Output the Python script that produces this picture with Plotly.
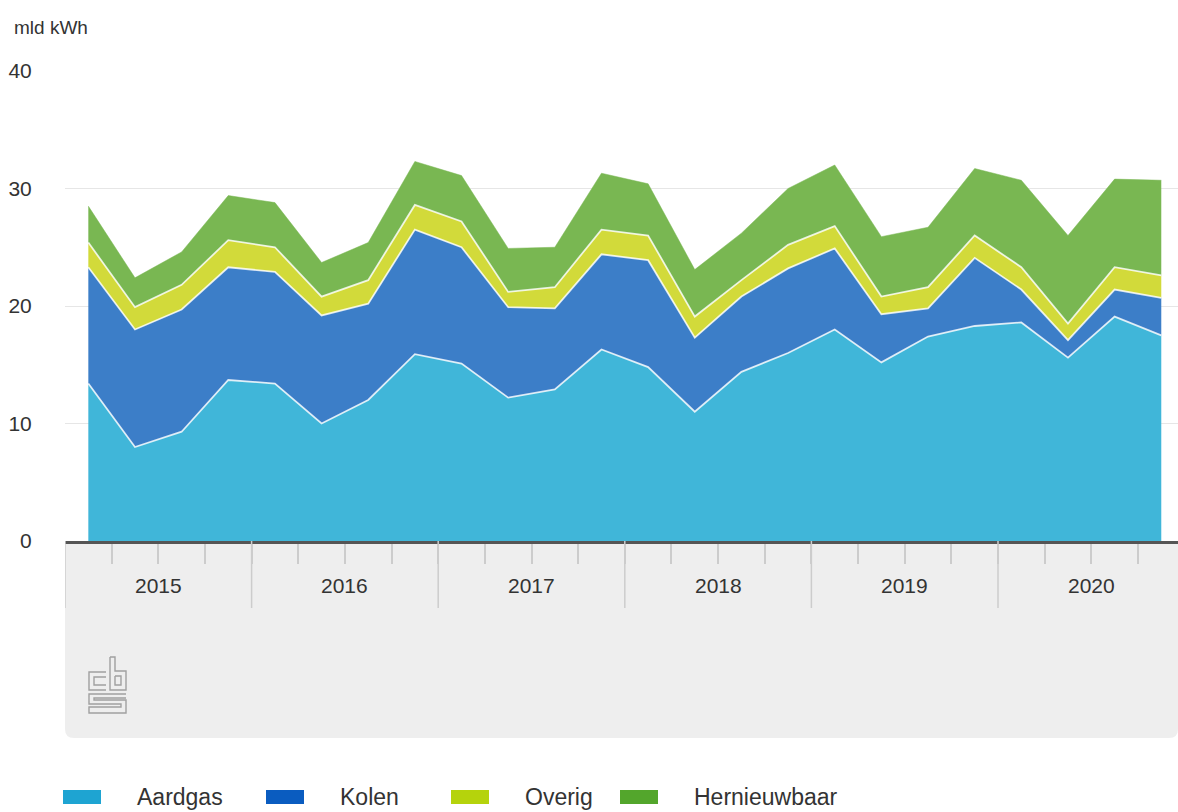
"""
Elektriciteitsproductie naar energiebron, per kwartaal (mld kWh).
Stacked area chart in CBS style.
"""

import plotly.graph_objects as go

# data
years = ["2015", "2016", "2017", "2018", "2019", "2020"]
quarters = [f"{y} K{q}" for y in years for q in range(1, 5)]

aardgas = [13.4, 8.0, 9.3, 13.7, 13.4, 10.0, 12.0, 15.9, 15.1, 12.2, 12.9, 16.3,
           14.8, 11.0, 14.4, 16.0, 18.0, 15.2, 17.4, 18.3, 18.6, 15.6, 19.1, 17.5]
kolen = [9.9, 10.0, 10.4, 9.6, 9.5, 9.2, 8.2, 10.6, 9.9, 7.7, 6.9, 8.1,
         9.1, 6.3, 6.4, 7.2, 6.9, 4.1, 2.4, 5.8, 2.8, 1.5, 2.3, 3.2]
overig = [2.1, 1.9, 2.1, 2.3, 2.1, 1.6, 2.0, 2.1, 2.2, 1.3, 1.8, 2.1,
          2.1, 1.8, 1.4, 2.0, 1.9, 1.5, 1.8, 1.9, 1.9, 1.4, 1.9, 1.9]
hernieuwbaar = [3.1, 2.5, 2.8, 3.8, 3.8, 2.9, 3.2, 3.7, 3.9, 3.7, 3.4, 4.8,
                4.4, 4.0, 4.0, 4.8, 5.2, 5.1, 5.1, 5.7, 7.4, 7.5, 7.5, 8.1]

series_names = ["Aardgas", "Kolen", "Overig", "Hernieuwbaar"]
series_values = [aardgas, kolen, overig, hernieuwbaar]
fill_colors = ["#40b6d9", "#3c7ec8", "#d2da3a", "#79b752"]
legend_colors = ["#1ea4d2", "#0a5cc0", "#b5d30c", "#53a62c"]
y_ticks = [0, 10, 20, 30, 40]
unit_label = "mld kWh"

FONT = "Liberation Sans, Arial, sans-serif"
TEXT = "#333333"

# plot area in pixels: x 65..1178, y 71..541
L, R, T, B = 65, 1178, 71, 541


def px_x(x):
    return (x - L) / (R - L)


def px_y(y):
    return (B - y) / (B - T)


def path(points):
    return "M" + " L".join(f"{px_x(x):.5f},{px_y(y):.5f}" for x, y in points)


xs = list(range(len(quarters)))

fig = go.Figure()
for i, (name, vals) in enumerate(zip(series_names, series_values)):
    top = i == len(series_names) - 1
    fig.add_trace(go.Scatter(
        x=xs, y=vals, name=name, mode="lines", stackgroup="one",
        fillcolor=fill_colors[i],
        line=dict(color=fill_colors[i] if top else "rgba(255,255,255,0.8)",
                  width=0.5 if top else 1.8),
        showlegend=False,
    ))

shapes = []

# grey band under the axis with rounded bottom corners
r = 9
band = (f"M{px_x(L)},{px_y(B)} L{px_x(R)},{px_y(B)} L{px_x(R)},{px_y(738 - r)} "
        f"Q{px_x(R)},{px_y(738)} {px_x(R - r)},{px_y(738)} L{px_x(L + r)},{px_y(738)} "
        f"Q{px_x(L)},{px_y(738)} {px_x(L)},{px_y(738 - r)} Z")
shapes.append(dict(type="path", path=band, xref="paper", yref="paper",
                   fillcolor="#eeeeee", line=dict(width=0), layer="below"))

# year separators
for k in range(len(years)):
    xv = 4 * k - 0.5
    shapes.append(dict(type="line", xref="x", yref="paper", x0=xv, x1=xv,
                       y0=0, y1=px_y(608), line=dict(color="#cccccc", width=1.5)))

# cbs logo (rough outline)
logo_col = "#a0a0a0"
logo_paths = [
    [(106, 672), (89, 672), (89, 690), (106, 690)],
    [(106, 677), (94, 677), (94, 685), (106, 685)],
    [(110, 657), (110, 690), (126, 690), (126, 671), (115, 671), (115, 657), (110, 657)],
    [(115, 676), (121, 676), (121, 685), (115, 685), (115, 676)],
    [(126, 694), (89, 694), (89, 704), (121, 704), (121, 707), (89, 707), (89, 713),
     (126, 713), (126, 700), (94, 700), (94, 698), (126, 698)],
]
for pts in logo_paths:
    shapes.append(dict(type="path", path=path(pts), xref="paper", yref="paper",
                       line=dict(color=logo_col, width=1.4)))

# legend (drawn by hand: wide swatches)
legend_x = [63, 266, 451, 620]
for i, name in enumerate(series_names):
    x0 = legend_x[i]
    shapes.append(dict(type="rect", xref="paper", yref="paper",
                       x0=px_x(x0), x1=px_x(x0 + 38), y0=px_y(790), y1=px_y(804),
                       fillcolor=legend_colors[i], line=dict(width=0)))

annotations = []
for i, name in enumerate(series_names):
    annotations.append(dict(text=name, xref="paper", yref="paper",
                            x=px_x(legend_x[i] + 72), y=px_y(797), xanchor="left",
                            yanchor="middle", showarrow=False,
                            font=dict(family=FONT, size=23, color=TEXT)))

for k, yr in enumerate(years):
    annotations.append(dict(text=yr, xref="x", yref="paper", x=4 * k + 1.5,
                            y=px_y(585), xanchor="center", yanchor="middle",
                            showarrow=False, font=dict(family=FONT, size=21, color=TEXT)))

annotations.append(dict(text=unit_label, xref="paper", yref="paper", x=px_x(12),
                        y=px_y(27), xanchor="left", yanchor="middle", showarrow=False,
                        font=dict(family=FONT, size=19, color=TEXT)))

fig.update_layout(
    width=1178, height=812,
    margin=dict(l=L, r=1178 - R, t=T, b=812 - B, pad=0),
    plot_bgcolor="white", paper_bgcolor="white",
    font=dict(family=FONT, color=TEXT),
    showlegend=False,
    shapes=shapes,
    annotations=annotations,
    hovermode="x unified",
)

fig.update_xaxes(
    range=[-0.5, -0.5 + (R - L) / 46.65],
    tickvals=[q + 0.5 for q in xs[:-1]],
    showticklabels=False,
    ticks="outside", ticklen=20, tickwidth=1.5, tickcolor="#cccccc",
    showgrid=False, zeroline=False,
    showline=True, linecolor="#555555", linewidth=2.5,
)
fig.update_yaxes(
    range=[0, 40], tickvals=y_ticks,
    ticks="outside", ticklen=28, tickcolor="rgba(0,0,0,0)",
    tickfont=dict(family=FONT, size=21, color=TEXT),
    showgrid=True, gridcolor="#e6e6e6", gridwidth=1,
    zeroline=False, showline=False,
)

fig.write_html("out.html", config={"displayModeBar": False},
               post_script="document.body.style.margin='0';")
